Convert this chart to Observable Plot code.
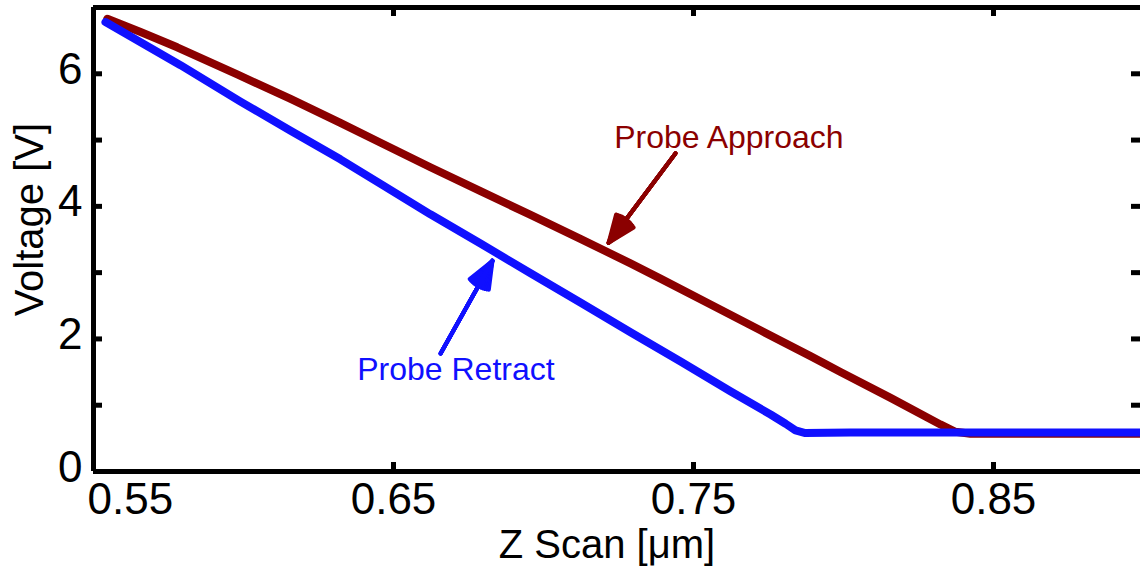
<!DOCTYPE html>
<html>
<head>
<meta charset="utf-8">
<script src="https://cdn.jsdelivr.net/npm/d3@7"></script>
<script src="https://cdn.jsdelivr.net/npm/@observablehq/plot@0.6"></script>
<style>
  html, body { margin: 0; padding: 0; background: #fff; }
  svg { display: block; }
</style>
</head>
<body>
<div id="chart"></div>
<script>
// ---- data ----
const approachZ = [0.5546, 0.5657, 0.5779, 0.5979, 0.6157, 0.6323, 0.6457, 0.6623, 0.6790, 0.6957, 0.7123, 0.7290, 0.7390, 0.7557, 0.7723, 0.7890, 0.7990, 0.8157, 0.8323, 0.8373, 0.8423, 0.8990];
const approachV = [6.83, 6.63, 6.40, 5.99, 5.62, 5.26, 4.96, 4.59, 4.23, 3.87, 3.51, 3.14, 2.91, 2.52, 2.13, 1.74, 1.50, 1.11, 0.71, 0.60, 0.57, 0.57];
const retractZ = [0.5540, 0.5790, 0.5990, 0.6157, 0.6323, 0.6457, 0.6623, 0.6790, 0.6957, 0.7123, 0.7290, 0.7457, 0.7623, 0.7757, 0.7807, 0.7840, 0.7873, 0.8023, 0.8990];
const retractV = [6.78, 6.13, 5.58, 5.14, 4.71, 4.34, 3.88, 3.44, 2.99, 2.55, 2.10, 1.66, 1.21, 0.86, 0.72, 0.62, 0.58, 0.59, 0.59];

const xTicks = [0.55, 0.65, 0.75, 0.85];
const yTicks = [0, 1, 2, 3, 4, 5, 6, 7];
const yLabels = [0, 2, 4, 6];
const xDomain = [0.55, 0.899];
const yDomain = [0, 7];

// annotations: label text, label position, arrow start and tip (data units)
const annoLabels = ["Probe Approach", "Probe Retract"];
const annoTextZ = [0.7618, 0.6708];
const annoTextV = [5.04, 1.53];
const arrowZ1 = [0.7440, 0.6657];
const arrowV1 = [4.80, 1.78];
const arrowZ2 = [0.7217, 0.6830];
const arrowV2 = [3.45, 3.18];
const annoColors = ["#8b0000", "#1010ff"];

const xLabel = "Z Scan [\u03bcm]";
const yLabel = "Voltage [V]";
// y-axis title anchor (data units, outside the frame)
const yLabelZ = 0.529;
const yLabelV = 3.80;

// ---- build ----
const approach = approachZ.map((z, i) => ({z, v: approachV[i]}));
const retract = retractZ.map((z, i) => ({z, v: retractV[i]}));
const annos = annoLabels.map((t, i) => ({
  t, x: annoTextZ[i], y: annoTextV[i],
  x1: arrowZ1[i], y1: arrowV1[i], x2: arrowZ2[i], y2: arrowV2[i], c: annoColors[i]
}));

const W = 1140, H = 575;
const mL = 93, mR = 0, mT = 7, mB = 104;
const innerW = W - mL - mR, innerH = H - mT - mB;
const tickLen = 9;
const font = "'Liberation Sans', Arial, Helvetica, sans-serif";

const arrowMarks = [44, 36, 28, 20, 12, 4].map(a =>
  Plot.arrow(annos, {x1: "x1", y1: "y1", x2: "x2", y2: "y2", stroke: "c",
    strokeWidth: 4, headAngle: a, headLength: 11})
);

const chart = Plot.plot({
  width: W, height: H,
  marginLeft: mL, marginRight: mR, marginTop: mT, marginBottom: mB,
  style: {fontFamily: font, background: "#fff", color: "#000", overflow: "visible"},
  x: {domain: xDomain, axis: null},
  y: {domain: yDomain, axis: null},
  color: {type: "identity"},
  marks: [
    // data lines
    Plot.line(approach, {x: "z", y: "v", stroke: "#8b0000", strokeWidth: 8, strokeLinecap: "round", strokeLinejoin: "round"}),
    Plot.line(retract, {x: "z", y: "v", stroke: "#1010ff", strokeWidth: 8, strokeLinecap: "round", strokeLinejoin: "round"}),
    // annotations
    ...arrowMarks,
    Plot.text(annos, {x: "x", y: "y", text: "t", fill: "c", fontSize: 32, lineAnchor: "middle"}),
    // frame (left, bottom, top)
    Plot.ruleX([xDomain[0]], {strokeWidth: 5}),
    Plot.ruleY([yDomain[0]], {strokeWidth: 5}),
    Plot.ruleY([yDomain[1]], {strokeWidth: 5}),
    // inward ticks
    Plot.tickY(yTicks, {y: d => d, strokeWidth: 5, insetRight: innerW - tickLen}),
    Plot.tickY(yTicks, {y: d => d, strokeWidth: 5, insetLeft: innerW - tickLen}),
    Plot.tickX(xTicks, {x: d => d, strokeWidth: 5, insetTop: innerH - tickLen}),
    Plot.tickX(xTicks, {x: d => d, strokeWidth: 5, insetBottom: innerH - tickLen}),
    // tick labels
    Plot.axisY({ticks: yLabels, tickSize: 0, tickPadding: 11, fontSize: 44, dy: -4, label: null, tickFormat: d3.format("d")}),
    Plot.axisX({ticks: xTicks.slice(1), tickSize: 0, tickPadding: 11, fontSize: 44, label: null, tickFormat: d3.format(".2f")}),
    Plot.axisX({ticks: xTicks.slice(0, 1), tickSize: 0, tickPadding: 11, fontSize: 44, label: null, textAnchor: "start", dx: -6, tickFormat: d3.format(".2f")}),
    // axis titles
    Plot.text([xLabel], {frameAnchor: "bottom", fontSize: 40, lineAnchor: "middle", dx: -10, dy: 74}),
    Plot.text([yLabel], {x: () => yLabelZ, y: () => yLabelV, fontSize: 40, lineAnchor: "middle", rotate: -90})
  ]
});
document.getElementById("chart").appendChild(chart);
</script>
</body>
</html>
